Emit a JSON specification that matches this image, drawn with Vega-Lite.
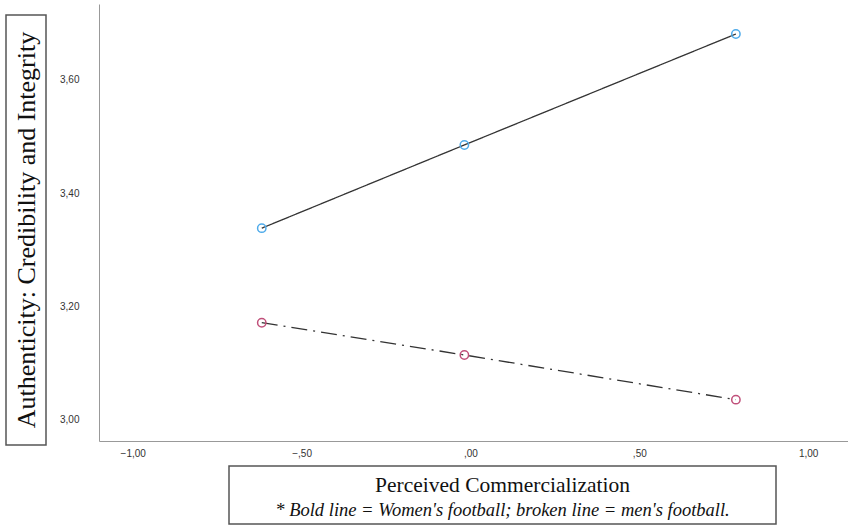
{
  "$schema": "https://vega.github.io/schema/vega-lite/v6.json",
  "padding": {"left": 5, "top": 3, "right": 0, "bottom": 0},
  "background": "white",
  "config": {"view": {"stroke": null}},
  "bounds": "flush",
  "spacing": 93,
  "hconcat": [
    {
      "bounds": "flush",
      "spacing": 0,
      "vconcat": [
        {
          "width": 40,
          "height": 11,
          "data": {"values": [{"t": ""}]},
          "mark": {"type": "text"},
          "encoding": {"text": {"field": "t"}}
        },
        {
          "width": 40,
          "height": 430,
          "view": {"stroke": "#555555", "strokeWidth": 1.5},
          "data": {"values": [{"t": "Authenticity: Credibility and Integrity"}]},
          "mark": {"type": "text", "angle": 270, "font": "Liberation Serif", "fontSize": 26, "color": "#111111", "baseline": "middle", "align": "center", "dy": 1},
          "encoding": {"text": {"field": "t"}}
        }
      ]
    },
    {
      "bounds": "flush",
      "spacing": 25,
      "vconcat": [
        {
          "width": 749,
          "height": 437,
          "data": {
            "values": [
              {"x": -0.618, "y": 3.338, "group": "Women's football"},
              {"x": -0.018, "y": 3.485, "group": "Women's football"},
              {"x": 0.786, "y": 3.681, "group": "Women's football"},
              {"x": -0.618, "y": 3.171, "group": "Men's football"},
              {"x": -0.018, "y": 3.114, "group": "Men's football"},
              {"x": 0.786, "y": 3.035, "group": "Men's football"}
            ]
          },
          "encoding": {
            "x": {
              "field": "x", "type": "quantitative",
              "scale": {"domain": [-1.1, 1.118], "nice": false, "zero": false},
              "axis": {"title": null, "values": [-1, -0.5, 0, 0.5, 1], "labelExpr": "replace(replace(format(datum.value, '.2f'), '0.', '.'), '.', ',')", "ticks": false, "tickSize": 0, "grid": false, "domainColor": "#999999", "labelFont": "Liberation Sans", "labelFontSize": 10, "labelColor": "#333333", "labelPadding": 7}
            },
            "y": {
              "field": "y", "type": "quantitative",
              "scale": {"domain": [2.962, 3.734], "nice": false, "zero": false},
              "axis": {"title": null, "values": [3, 3.2, 3.4, 3.6], "labelExpr": "replace(replace(format(datum.value, '.2f'), '0.', '.'), '.', ',')", "ticks": false, "tickSize": 0, "grid": false, "domainColor": "#999999", "labelFont": "Liberation Sans", "labelFontSize": 10, "labelColor": "#333333", "labelPadding": 20}
            }
          },
          "layer": [
            {
              "mark": {"type": "line", "color": "#333333", "strokeWidth": 1.3},
              "encoding": {
                "detail": {"field": "group"},
                "strokeDash": {"field": "group", "type": "nominal", "scale": {"domain": ["Women's football", "Men's football"], "range": [[1, 0], [16, 6, 2, 6]]}, "legend": null}
              }
            },
            {
              "mark": {"type": "point", "filled": false, "size": 70, "strokeWidth": 1.5, "opacity": 1},
              "encoding": {
                "color": {"field": "group", "type": "nominal", "scale": {"domain": ["Women's football", "Men's football"], "range": ["#4fabea", "#c0507a"]}, "legend": null}
              }
            }
          ]
        },
        {
          "bounds": "flush",
          "spacing": 0,
          "hconcat": [
            {
              "width": 130,
              "height": 58,
              "data": {"values": [{"t": ""}]},
              "mark": {"type": "text"},
              "encoding": {"text": {"field": "t"}}
            },
            {
              "width": 547,
              "height": 58,
              "view": {"stroke": "#555555", "strokeWidth": 1.5},
              "layer": [
                {
                  "data": {"values": [{"t": "Perceived Commercialization"}]},
                  "mark": {"type": "text", "font": "Liberation Serif", "fontSize": 21.5, "color": "#111111", "baseline": "middle", "align": "center", "dy": -9},
                  "encoding": {"text": {"field": "t"}}
                },
                {
                  "data": {"values": [{"t": "* Bold line = Women's football; broken line = men's football."}]},
                  "mark": {"type": "text", "font": "Liberation Serif", "fontSize": 18.5, "fontStyle": "italic", "color": "#111111", "baseline": "middle", "align": "center", "dy": 15},
                  "encoding": {"text": {"field": "t"}}
                }
              ]
            }
          ]
        }
      ]
    }
  ]
}
